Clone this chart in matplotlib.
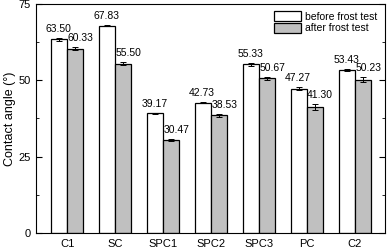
import numpy as np
import matplotlib.pyplot as plt
from matplotlib.ticker import MultipleLocator

samples = ['C1', 'SC', 'SPC1', 'SPC2', 'SPC3', 'PC', 'C2']
before = [63.50, 67.83, 39.17, 42.73, 55.33, 47.27, 53.43]
after = [60.33, 55.50, 30.47, 38.53, 50.67, 41.30, 50.23]
before_err = [0.5, 0.15, 0.2, 0.3, 0.5, 0.4, 0.4]
after_err = [0.5, 0.5, 0.4, 0.5, 0.4, 0.9, 0.9]

plt.rcParams['font.family'] = ['Liberation Sans', 'DejaVu Sans']
fig = plt.figure(figsize=(3.87, 2.5), dpi=100)
ax = fig.add_axes([36/387, 17/250, 349/387, 229/250])

x = np.arange(1, len(samples) + 1)
w = 0.33
ax.bar(x - w/2, before, w, color='white', edgecolor='black', lw=0.9,
       yerr=before_err, capsize=2, error_kw=dict(lw=0.7, capthick=0.7),
       label='before frost test')
ax.bar(x + w/2, after, w, color='#c0c0c0', edgecolor='black', lw=0.9,
       yerr=after_err, capsize=2, error_kw=dict(lw=0.7, capthick=0.7),
       label='after frost test')

for xi, b, a, eb, ea in zip(x, before, after, before_err, after_err):
    ax.text(xi - w/2 - 0.02, b + eb + 1.3, '%.2f' % b, ha='center', va='bottom', fontsize=7.5)
    ax.text(xi + w/2 + 0.11, a + ea + 1.3, '%.2f' % a, ha='center', va='bottom', fontsize=7.5)

ax.set_xlim(0.35, 7.625)
ax.set_ylim(0, 75)
ax.set_xticks(x)
ax.set_xticklabels(samples, fontsize=8)
ax.tick_params(axis='x', length=0, pad=4)
ax.yaxis.set_major_locator(MultipleLocator(25))
ax.yaxis.set_minor_locator(MultipleLocator(12.5))
ax.tick_params(axis='y', which='both', direction='in', right=True, labelsize=8)
ax.tick_params(axis='y', which='major', length=4)
ax.tick_params(axis='y', which='minor', length=2)
ax.set_ylabel('Contact angle (°)', fontsize=9, labelpad=2)
ax.legend(loc='upper right', fontsize=7.5, frameon=False, handlelength=2.6,
          handleheight=1.1, labelspacing=0.1, borderaxespad=0.3, handletextpad=0.4)

fig.savefig('out.png', dpi=100)
